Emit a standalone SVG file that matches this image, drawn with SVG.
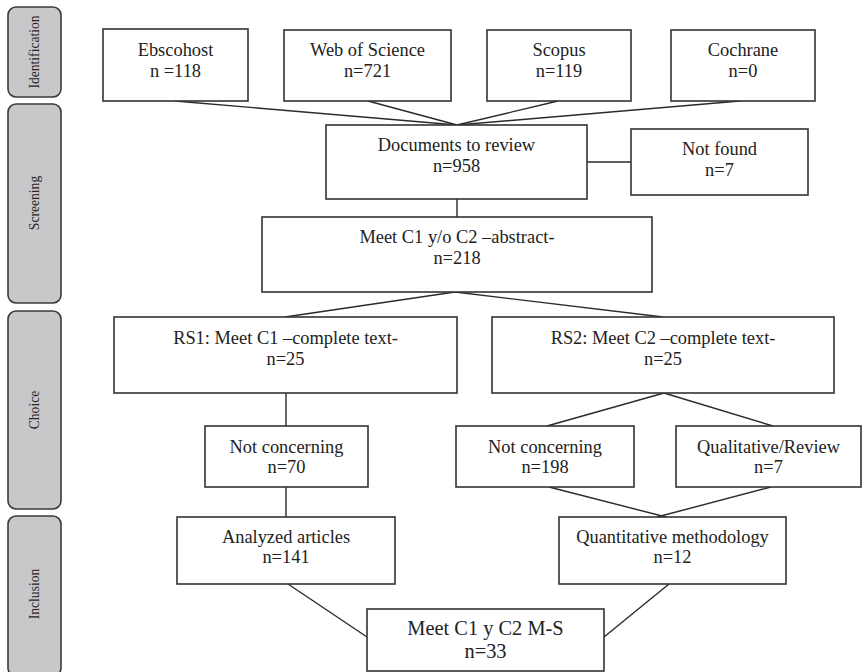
<svg xmlns="http://www.w3.org/2000/svg" width="866" height="672" viewBox="0 0 866 672">
<style>
.bg{fill:#ffffff}
.box{fill:#ffffff;stroke:#333333;stroke-width:1.6}
.bar{fill:#c8c8ca;stroke:#3a3a3a;stroke-width:1.6}
.t{font-family:"Liberation Serif","Times New Roman",serif;font-size:18.4px;fill:#222222;text-anchor:middle}
.big{font-size:20.4px}
.side{font-family:"Liberation Serif","Times New Roman",serif;font-size:13.6px;fill:#262626;text-anchor:middle}
.ln{stroke:#2a2a2a;stroke-width:1.4;fill:none}
</style>
<rect class="bg" x="0" y="0" width="866" height="672"/>

<g id="phases">
  <g id="phase-identification">
    <rect class="bar" x="8" y="7" width="53" height="90" rx="8"/>
    <text class="side" transform="translate(39,52) rotate(-90)">Identification</text>
  </g>
  <g id="phase-screening">
    <rect class="bar" x="8" y="104" width="53" height="199" rx="8"/>
    <text class="side" transform="translate(39,203) rotate(-90)">Screening</text>
  </g>
  <g id="phase-choice">
    <rect class="bar" x="8" y="311" width="53" height="198" rx="8"/>
    <text class="side" transform="translate(39,410) rotate(-90)">Choice</text>
  </g>
  <g id="phase-inclusion">
    <rect class="bar" x="8" y="516" width="53" height="160" rx="8"/>
    <text class="side" transform="translate(39,594) rotate(-90)">Inclusion</text>
  </g>
</g>

<g id="connectors">
  <line class="ln" x1="175" y1="101" x2="457" y2="125"/>
  <line class="ln" x1="368" y1="101" x2="457" y2="125"/>
  <line class="ln" x1="558" y1="101" x2="457" y2="125"/>
  <line class="ln" x1="740" y1="101" x2="457" y2="125"/>
  <line class="ln" x1="587" y1="162" x2="631" y2="162"/>
  <line class="ln" x1="457" y1="199" x2="457" y2="217"/>
  <line class="ln" x1="455" y1="292" x2="285" y2="317"/>
  <line class="ln" x1="455" y1="292" x2="663" y2="317"/>
  <line class="ln" x1="286" y1="393" x2="286" y2="426"/>
  <line class="ln" x1="664" y1="393" x2="547" y2="426"/>
  <line class="ln" x1="664" y1="393" x2="773" y2="426"/>
  <line class="ln" x1="286" y1="487" x2="286" y2="517"/>
  <line class="ln" x1="549" y1="487" x2="666" y2="517"/>
  <line class="ln" x1="771" y1="487" x2="657" y2="517"/>
  <line class="ln" x1="288" y1="584" x2="367" y2="637"/>
  <line class="ln" x1="669" y1="584" x2="604" y2="637"/>
</g>

<g id="n-ebscohost">
  <rect class="box" x="103" y="29" width="145" height="72"/>
  <text class="t" x="175.5" y="56">Ebscohost</text>
  <text class="t" x="175.5" y="77">n =118</text>
</g>
<g id="n-wos">
  <rect class="box" x="284" y="30" width="167" height="71"/>
  <text class="t" x="367.5" y="56">Web of Science</text>
  <text class="t" x="367.5" y="77">n=721</text>
</g>
<g id="n-scopus">
  <rect class="box" x="487" y="30" width="144" height="71"/>
  <text class="t" x="559" y="56">Scopus</text>
  <text class="t" x="559" y="77">n=119</text>
</g>
<g id="n-cochrane">
  <rect class="box" x="671" y="30" width="144" height="71"/>
  <text class="t" x="743" y="56">Cochrane</text>
  <text class="t" x="743" y="77">n=0</text>
</g>
<g id="n-documents">
  <rect class="box" x="326" y="125" width="261" height="74"/>
  <text class="t" x="456.5" y="151">Documents to review</text>
  <text class="t" x="456.5" y="172">n=958</text>
</g>
<g id="n-notfound">
  <rect class="box" x="631" y="129" width="177" height="66"/>
  <text class="t" x="719.5" y="155">Not found</text>
  <text class="t" x="719.5" y="176">n=7</text>
</g>
<g id="n-abstract">
  <rect class="box" x="262" y="217" width="390" height="75"/>
  <text class="t" x="457" y="243">Meet C1 y/o C2 –abstract-</text>
  <text class="t" x="457" y="264">n=218</text>
</g>
<g id="n-rs1">
  <rect class="box" x="114" y="317" width="343" height="76"/>
  <text class="t" x="285.5" y="344">RS1: Meet C1 –complete text-</text>
  <text class="t" x="285.5" y="365">n=25</text>
</g>
<g id="n-rs2">
  <rect class="box" x="492" y="317" width="342" height="76"/>
  <text class="t" x="663" y="344">RS2: Meet C2 –complete text-</text>
  <text class="t" x="663" y="365">n=25</text>
</g>
<g id="n-notconcerning1">
  <rect class="box" x="205" y="426" width="163" height="61"/>
  <text class="t" x="286.5" y="453">Not concerning</text>
  <text class="t" x="286.5" y="473">n=70</text>
</g>
<g id="n-notconcerning2">
  <rect class="box" x="456" y="426" width="178" height="61"/>
  <text class="t" x="545" y="453">Not concerning</text>
  <text class="t" x="545" y="473">n=198</text>
</g>
<g id="n-qualitative">
  <rect class="box" x="676" y="426" width="185" height="61"/>
  <text class="t" x="768.5" y="453">Qualitative/Review</text>
  <text class="t" x="768.5" y="473">n=7</text>
</g>
<g id="n-analyzed">
  <rect class="box" x="177" y="517" width="218" height="67"/>
  <text class="t" x="286" y="543">Analyzed articles</text>
  <text class="t" x="286" y="563">n=141</text>
</g>
<g id="n-quantitative">
  <rect class="box" x="559" y="517" width="227" height="67"/>
  <text class="t" x="672.5" y="543">Quantitative methodology</text>
  <text class="t" x="672.5" y="563">n=12</text>
</g>
<g id="n-final">
  <rect class="box" x="367" y="609" width="237" height="62"/>
  <text class="t big" x="485.5" y="635">Meet C1 y C2 M-S</text>
  <text class="t big" x="485.5" y="658">n=33</text>
</g>
</svg>
